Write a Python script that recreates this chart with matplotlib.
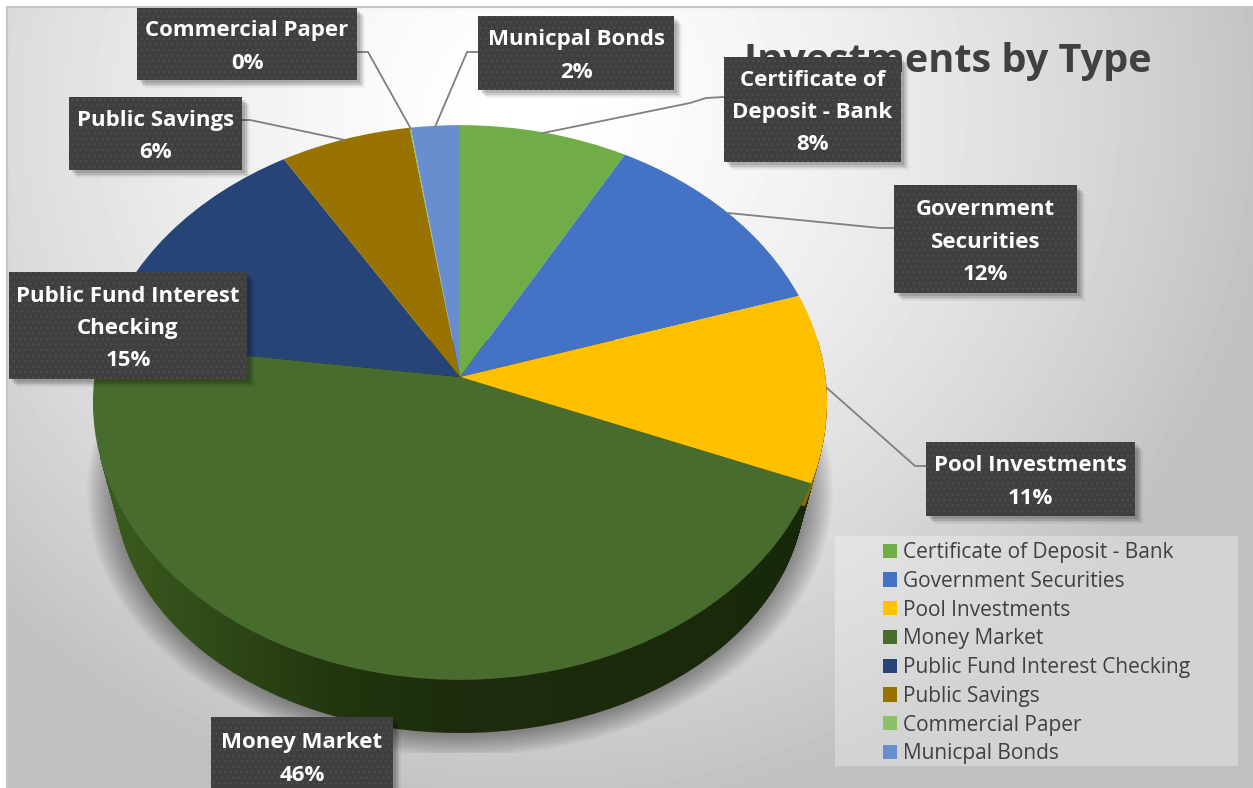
import numpy as np
import matplotlib
matplotlib.use("Agg")
import matplotlib.pyplot as plt
from matplotlib.patches import PathPatch, Rectangle, Circle
from matplotlib.path import Path
from matplotlib.transforms import Transform
from matplotlib.colors import LinearSegmentedColormap

categories = ["Certificate of Deposit - Bank", "Government Securities", "Pool Investments",
              "Money Market", "Public Fund Interest Checking", "Public Savings",
              "Commercial Paper", "Municpal Bonds"]
values = [8.1, 12.0, 11.0, 46.0, 14.2, 6.3, 0.05, 2.35]
percent_labels = ["8%", "12%", "11%", "46%", "15%", "6%", "0%", "2%"]
colors = ["#70AD47", "#4472C4", "#FFC000", "#476C2D", "#264478", "#997300", "#8CC168", "#698ED0"]
label_lines = ["Certificate of\nDeposit - Bank", "Government\nSecurities", "Pool Investments",
               "Money Market", "Public Fund Interest\nChecking", "Public Savings",
               "Commercial Paper", "Municpal Bonds"]
title = "Investments by Type"

W, H = 1253, 788
FONT = "Open Sans"
plt.rcParams["hatch.linewidth"] = 0.8


class Disc(Transform):
    """Perspective view of the unit pie into pixel-like data coordinates."""
    input_dims = output_dims = 2
    is_separable = False

    def __init__(self, cx, cy, b, a, k):
        super().__init__()
        self.p = (cx, cy, b, a, k)

    def transform_non_affine(self, xy):
        cx, cy, b, a, k = self.p
        xy = np.asarray(xy, float)
        d = 1 + k * xy[:, 1]
        return np.column_stack([cx + b * xy[:, 0] / d, cy - a * xy[:, 1] / d])


TOP = np.array([460, 377, 365.5, 275, 0.0919])
BOTTOM = np.array([460, 465.4, 343.5, 243, 0.0919])


def disc_at(t):
    return Disc(*(TOP + (BOTTOM - TOP) * t))


fig = plt.figure(figsize=(W / 100, H / 100), dpi=100, facecolor="white")
ax = fig.add_axes([0, 0, 1, 1])

wedges, _ = ax.pie(values, colors=colors, startangle=90, counterclock=False,
                   wedgeprops={"linewidth": 0})
for w in wedges:
    w.set_zorder(6)
    w.set_transform(disc_at(0) + ax.transData)
ax.set_aspect("auto")
ax.set_xlim(0, W)
ax.set_ylim(H, 0)
ax.axis("off")

# background
yy, xx = np.mgrid[0:H, 0:W]
t = np.clip(np.hypot((xx - 530) / 760, (yy - 110) / 720), 0, 1)
bg = 1 - 0.25 * t ** 1.55
bg_im = ax.imshow(bg, extent=(0, W, H, 0), cmap="gray", vmin=0, vmax=1, aspect="auto",
                  zorder=0, interpolation="bilinear")
bg_im.set_clip_path(Rectangle((7, 7), W, H, transform=ax.transData))
ax.plot([6.5, 6.5, W], [H, 6.5, 6.5], color="#c6c6c6", lw=1.6, zorder=1)
ax.set_xlim(0, W)
ax.set_ylim(H, 0)

# soft shadow under the pie, clipped to the chart plot box
shadow_box = Rectangle((70, 400), 782, 353, transform=ax.transData)
for s in np.linspace(1.08, 1.0, 16):
    c = Circle((0, 0), s, facecolor="black", edgecolor="none", alpha=0.028, zorder=2,
               transform=disc_at(1.0) + ax.transData)
    ax.add_patch(c)
    c.set_clip_path(shadow_box)

# side of the pie
circle = Path.unit_circle()
mask = Path.make_compound_path(*[disc_at(t_).transform_path(circle)
                                 for t_ in np.linspace(0, 1, 45)])
side_cmap = LinearSegmentedColormap.from_list(
    "side", [(0, "#3c5c20"), (0.32, "#22360f"), (0.5, "#1c2c0c"), (1, "#18280a")])
side = ax.imshow(np.linspace(0, 1, 256)[None, :], extent=(100, 830, 760, 340), cmap=side_cmap,
                 aspect="auto", zorder=3)
side.set_clip_path(mask, ax.transData)
ax.set_xlim(0, W)
ax.set_ylim(H, 0)
for t_ in np.linspace(0.02, 0.3, 10):
    ax.add_patch(PathPatch(wedges[2].get_path(), facecolor="#8a6a05", edgecolor="none", zorder=4,
                           transform=disc_at(t_) + ax.transData))

# title (lies behind the data labels)
ax.text(948, 61, title, ha="center", va="center", family=FONT, fontweight="bold",
        fontsize=28.5, color="#404040", zorder=7)

# leader lines
leaders = {
    0: [(543, 133), (690, 103), (706, 98), (724, 97)],
    1: [(728, 213), (880, 228), (894, 228)],
    2: [(827, 388), (915, 466), (926, 466)],
    5: [(345, 140), (250, 120), (242, 120)],
    6: [(411, 129), (368, 52), (357, 52)],
    7: [(435, 127), (467, 52), (478, 52)],
}
for pts in leaders.values():
    xs, ys = zip(*pts)
    ax.plot(xs, ys, color="#7f7f7f", lw=1.3, zorder=8, solid_capstyle="round")

# data labels
boxes = {0: (724, 57, 901, 162), 1: (894, 185, 1077, 293), 2: (926, 442, 1135, 516),
         3: (211, 717, 393, 795), 4: (9, 272, 247, 379), 5: (69, 97, 242, 170),
         6: (137, 8, 357, 80), 7: (478, 16, 674, 90)}
for i, (x0, y0, x1, y1) in boxes.items():
    for d, al in [(9, 0.05), (7, 0.07), (5, 0.09), (3, 0.12)]:
        ax.add_patch(Rectangle((x0 + d * 0.9, y0 + d * 0.9), x1 - x0, y1 - y0, facecolor="black",
                               edgecolor="none", alpha=al, zorder=9))
    ax.add_patch(Rectangle((x0, y0), x1 - x0, y1 - y0, facecolor="#3f3f3f", edgecolor="#4e4e4e",
                           hatch="...", lw=0, zorder=10))
    ax.text((x0 + x1) / 2, (y0 + y1) / 2 + 3,
            label_lines[i] + "\n" + percent_labels[i], ha="center", va="center",
            family=FONT, fontweight="bold", fontsize=16, color="white", linespacing=1.7,
            zorder=11)

# legend
ax.add_patch(Rectangle((835, 536), 403, 230, facecolor="white", alpha=0.3, edgecolor="none", zorder=12))
leg = ax.legend(wedges, categories, loc="upper left", bbox_to_anchor=(883, 542),
                bbox_transform=ax.transData, frameon=False, borderpad=0, borderaxespad=0,
                handlelength=0.67, handleheight=0.67, handletextpad=0.3, labelspacing=0.373,
                prop={"family": FONT, "size": 15}, labelcolor="#404040")
leg.set_zorder(13)

fig.savefig("out.png", dpi=100, facecolor="white")
